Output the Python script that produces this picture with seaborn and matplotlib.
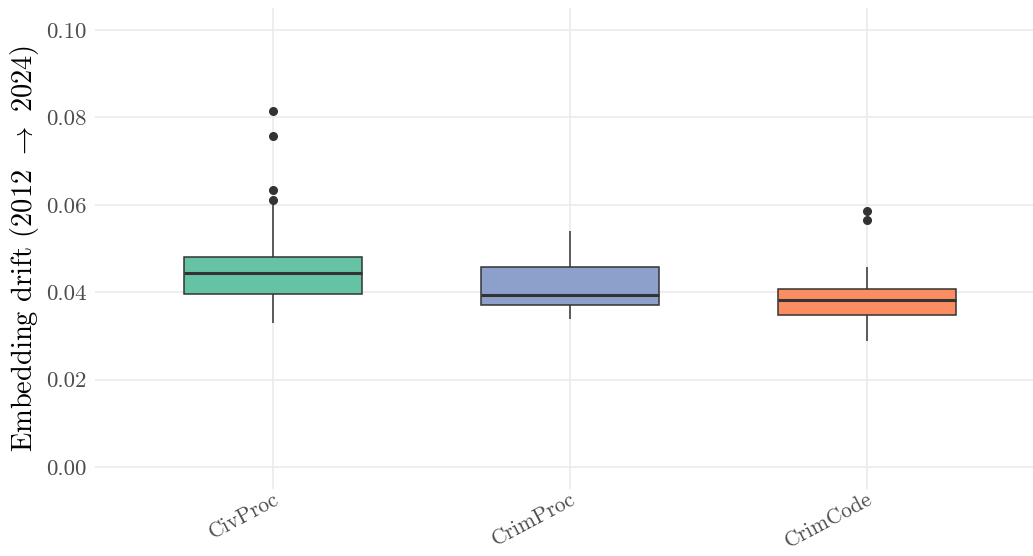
import seaborn as sns
import matplotlib.pyplot as plt
import pandas as pd
import numpy as np

# Per-document drift values (quartiles, whiskers, outliers)
civproc = [0.0330, 0.0352, 0.0368, 0.0381, 0.0390, 0.0395, 0.0405, 0.0418, 0.0429, 0.0438,
           0.0443, 0.0451, 0.0460, 0.0468, 0.0476, 0.0481, 0.0607, 0.0612, 0.0634, 0.0757, 0.0815]
crimproc = [0.0338, 0.0352, 0.0364, 0.0371, 0.0380, 0.0388, 0.0394, 0.0412, 0.0436, 0.0457,
            0.0488, 0.0515, 0.0541]
crimcode = [0.0289, 0.0318, 0.0337, 0.0349, 0.0360, 0.0372, 0.0382, 0.0392, 0.0401, 0.0408,
            0.0458, 0.0566, 0.0585]
categories = ["CivProc", "CrimProc", "CrimCode"]
colors = ["#66c2a5", "#8da0cb", "#fc8d62"]

df = pd.DataFrame({
    "corpus": ["CivProc"] * len(civproc) + ["CrimProc"] * len(crimproc) + ["CrimCode"] * len(crimcode),
    "drift": civproc + crimproc + crimcode,
})

sns.set_style("white")
plt.rcParams["font.family"] = ["cmr10", "DejaVu Serif"]
plt.rcParams["mathtext.fontset"] = "cm"
plt.rcParams["axes.formatter.use_mathtext"] = True

fig = plt.figure(figsize=(10.33, 5.56), dpi=100)
ax = fig.add_axes([95 / 1033, 1 - 489 / 556, 1 - 95 / 1033, (489 - 8) / 556])

sns.boxplot(data=df, x="corpus", y="drift", hue="corpus", order=categories,
            hue_order=categories, palette=colors, saturation=1, width=0.6, legend=False,
            linecolor="#333333", linewidth=1.1, ax=ax,
            medianprops=dict(color="#333333", linewidth=2.2),
            whiskerprops=dict(color="#333333", linewidth=1.1),
            capprops=dict(linewidth=0),
            flierprops=dict(marker="o", markerfacecolor="#333333",
                            markeredgecolor="#333333", markersize=5.5))

ax.set_xlim(-0.6, 2.56)
ax.set_ylim(-0.005, 0.105)
ax.set_yticks([0.0, 0.02, 0.04, 0.06, 0.08, 0.10])
ax.set_yticklabels(["0.00", "0.02", "0.04", "0.06", "0.08", "0.10"])
ax.grid(True, color="#ebebeb", linewidth=1.2)
ax.set_axisbelow(True)
for s in ax.spines.values():
    s.set_visible(False)
ax.tick_params(length=0, labelsize=16.5, colors="#4d4d4d", pad=6)
ax.tick_params(axis="x", labelsize=15.5, pad=0)
plt.setp(ax.get_xticklabels(), rotation=28, ha="right", rotation_mode="anchor")
ax.set_xlabel("")
ax.set_ylabel("Embedding drift (2012 $\\rightarrow$ 2024)", fontsize=20.5, color="black", labelpad=4)

fig.savefig("out.png", dpi=100)
